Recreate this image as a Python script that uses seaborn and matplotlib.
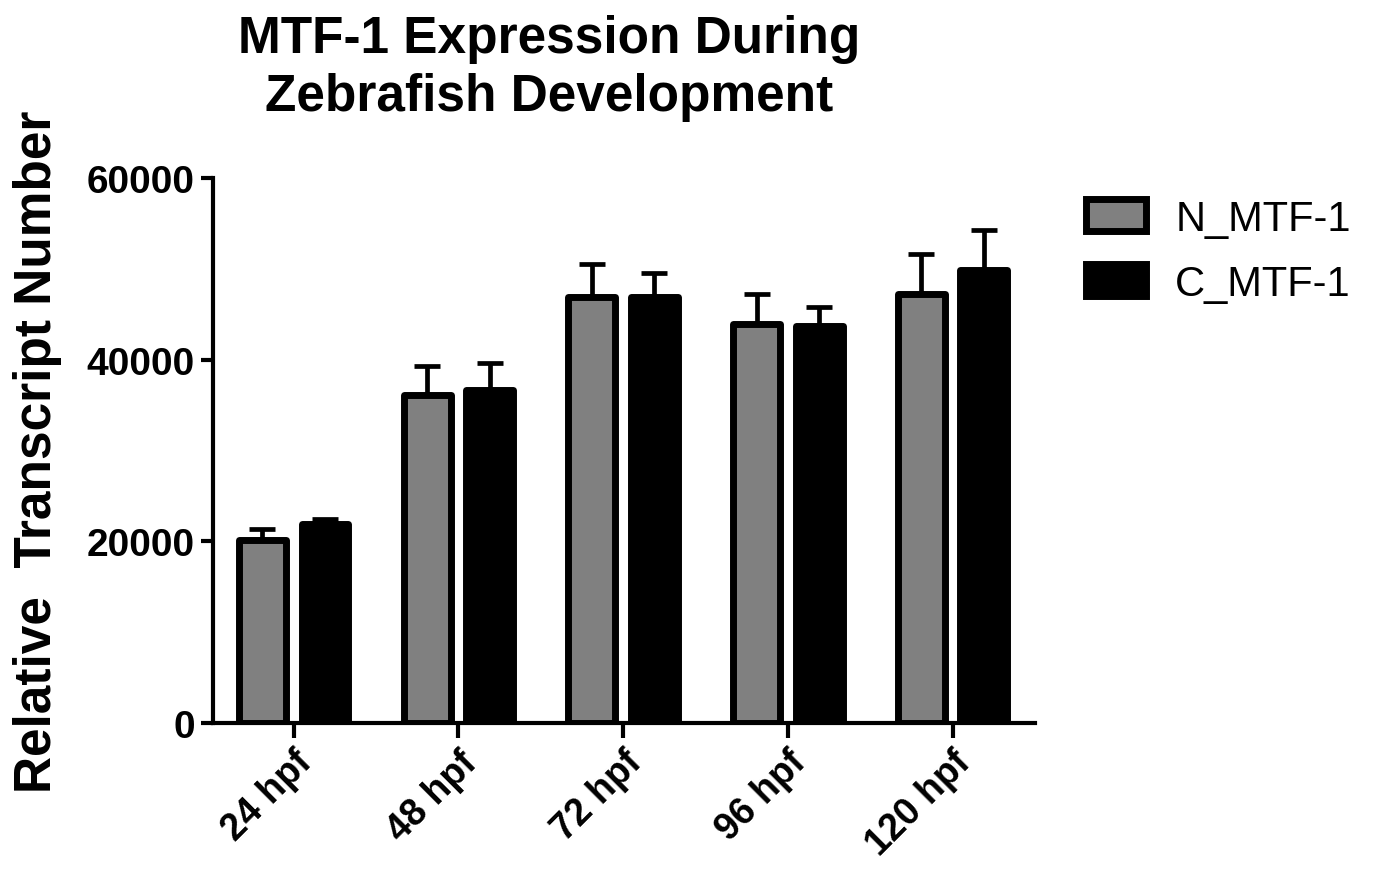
import pandas as pd
import matplotlib
matplotlib.use("Agg")
import matplotlib.pyplot as plt
import seaborn as sns

# Valores
etapas = ['24 hpf', '48 hpf', '72 hpf', '96 hpf', '120 hpf']
series = ['N_MTF-1', 'C_MTF-1']
media_n = [20100, 36150, 46850, 43950, 47200]
error_n = [1250, 3100, 3700, 3250, 4400]
media_c = [21950, 36650, 46900, 43700, 49850]
error_c = [550, 3000, 2600, 2050, 4450]
colores = {'N_MTF-1': '#808080', 'C_MTF-1': '#000000'}
yticks = [0, 20000, 40000, 60000]

df = pd.DataFrame({
    'etapa': etapas * 2,
    'valor': media_n + media_c,
    'serie': [series[0]] * len(etapas) + [series[1]] * len(etapas),
})

sns.set_style('ticks')
plt.rcParams['font.family'] = ['Liberation Sans', 'DejaVu Sans']
plt.rcParams['text.color'] = 'black'
plt.rcParams['axes.labelcolor'] = 'black'
plt.rcParams['xtick.color'] = 'black'
plt.rcParams['ytick.color'] = 'black'

fig = plt.figure(figsize=(13.76, 8.79), dpi=100)
ax = fig.add_axes([0.1548, 0.1763, 0.5974, 0.6201])

sns.barplot(data=df, x='etapa', y='valor', hue='serie', hue_order=series,
            order=etapas, palette=colores, width=0.76, gap=0.25,
            edgecolor='black', linewidth=5, errorbar=None, ax=ax)

for p in ax.patches:
    p.set_joinstyle('round')

# Barras de error solo hacia arriba
for cont, errs in zip(ax.containers, [error_n, error_c]):
    xs = [b.get_x() + b.get_width() / 2 for b in cont]
    ys = [b.get_height() for b in cont]
    ax.errorbar(xs, ys, yerr=[[0] * len(errs), errs], fmt='none',
                ecolor='black', elinewidth=3.4, capsize=9.5, capthick=3.4,
                zorder=1)

ax.set_ylim(0, 60000)
ax.set_xlim(-0.49, 4.5)
ax.set_yticks(yticks)
ax.set_yticklabels([str(v) for v in yticks], fontsize=28, fontweight='bold')
ax.set_xticks(range(len(etapas)))
ax.set_xticklabels(etapas, fontsize=27, fontweight='bold', rotation=45,
                   ha='right', rotation_mode='anchor')
ax.tick_params(axis='both', width=3, length=9, color='black', pad=4)
ax.tick_params(axis='x', length=11)
for s in ['left', 'bottom']:
    ax.spines[s].set_linewidth(3)
    ax.spines[s].set_color('black')
sns.despine(ax=ax)

ax.set_xlabel('')
ax.set_ylabel('Relative  Transcript Number', fontsize=37, fontweight='bold',
              labelpad=18)

fig.text(0.399, 0.983, 'MTF-1 Expression During\nZebrafish Development',
         ha='center', va='top', fontsize=37, fontweight='bold',
         linespacing=1.25)

handles, labels = ax.get_legend_handles_labels()
ax.get_legend().remove()
for h in handles:
    h.set_edgecolor('black')
    h.set_linewidth(5)
fig.legend(handles, labels, loc='upper left', bbox_to_anchor=(0.789, 0.773),
           frameon=False, fontsize=30, handlelength=1.45, handleheight=0.8,
           handletextpad=0.7, labelspacing=0.6, borderaxespad=0, borderpad=0)

plt.savefig('out.png', dpi=100)
plt.close()
